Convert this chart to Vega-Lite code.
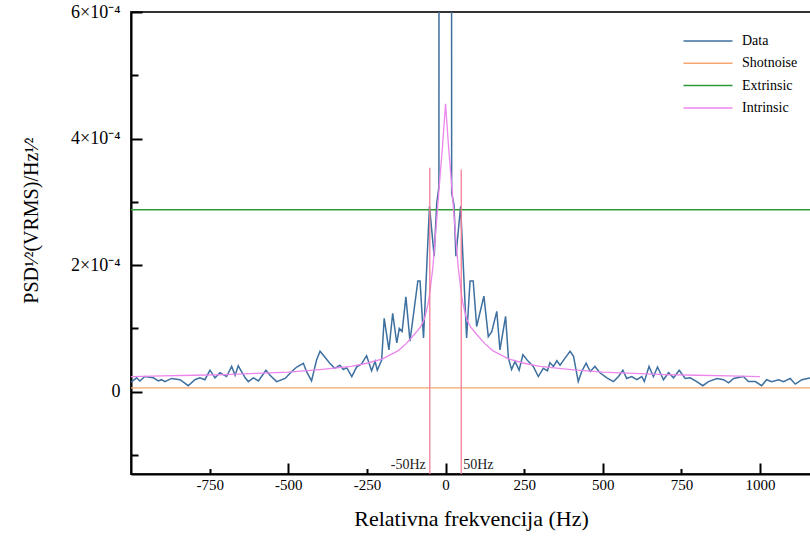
{
  "$schema": "https://vega.github.io/schema/vega-lite/v6.json",
  "width": 680,
  "height": 462,
  "autosize": {"type": "none"},
  "padding": {"left": 131, "top": 12, "right": 0, "bottom": 68},
  "background": "white",
  "config": {
    "font": "Liberation Serif",
    "view": {"stroke": "#333333", "strokeWidth": 2},
    "axis": {
      "domainColor": "black", "domainWidth": 2, "tickColor": "black", "tickWidth": 2,
      "labelColor": "black", "titleColor": "black", "grid": false,
      "labelFont": "Liberation Serif", "titleFont": "Liberation Serif", "titleFontWeight": "normal",
      "labelOverlap": false, "labelFlush": false, "labelBound": false
    },
    "text": {"font": "Liberation Serif"}
  },
  "datasets": {
    "psd": [
      {"f": -1000, "v": 1.5e-5, "s": "Data"}, {"f": -982, "v": 2.2e-5, "s": "Data"}, {"f": -972, "v": 1.7e-5, "s": "Data"},
      {"f": -956, "v": 2.4e-5, "s": "Data"}, {"f": -929, "v": 2.2e-5, "s": "Data"}, {"f": -913, "v": 1.7e-5, "s": "Data"},
      {"f": -903, "v": 1.9e-5, "s": "Data"}, {"f": -892, "v": 1.6e-5, "s": "Data"}, {"f": -871, "v": 2.1e-5, "s": "Data"},
      {"f": -844, "v": 1.9e-5, "s": "Data"}, {"f": -818, "v": 0.95e-5, "s": "Data"}, {"f": -797, "v": 1.9e-5, "s": "Data"},
      {"f": -781, "v": 2.2e-5, "s": "Data"}, {"f": -765, "v": 1.9e-5, "s": "Data"}, {"f": -749, "v": 3.4e-5, "s": "Data"},
      {"f": -733, "v": 2.2e-5, "s": "Data"}, {"f": -717, "v": 3.0e-5, "s": "Data"}, {"f": -696, "v": 2.4e-5, "s": "Data"},
      {"f": -680, "v": 4.0e-5, "s": "Data"}, {"f": -669, "v": 2.6e-5, "s": "Data"}, {"f": -659, "v": 4.1e-5, "s": "Data"},
      {"f": -637, "v": 2.2e-5, "s": "Data"}, {"f": -627, "v": 1.6e-5, "s": "Data"}, {"f": -611, "v": 2.2e-5, "s": "Data"},
      {"f": -595, "v": 1.7e-5, "s": "Data"}, {"f": -571, "v": 3.4e-5, "s": "Data"}, {"f": -558, "v": 2.6e-5, "s": "Data"},
      {"f": -537, "v": 1.6e-5, "s": "Data"}, {"f": -510, "v": 2.1e-5, "s": "Data"}, {"f": -489, "v": 3.2e-5, "s": "Data"},
      {"f": -473, "v": 3.9e-5, "s": "Data"}, {"f": -452, "v": 4.5e-5, "s": "Data"}, {"f": -442, "v": 3.2e-5, "s": "Data"},
      {"f": -426, "v": 1.7e-5, "s": "Data"}, {"f": -410, "v": 5.0e-5, "s": "Data"}, {"f": -399, "v": 6.4e-5, "s": "Data"},
      {"f": -389, "v": 5.8e-5, "s": "Data"}, {"f": -368, "v": 4.5e-5, "s": "Data"}, {"f": -352, "v": 3.7e-5, "s": "Data"},
      {"f": -336, "v": 4.2e-5, "s": "Data"}, {"f": -325, "v": 3.5e-5, "s": "Data"}, {"f": -314, "v": 3.8e-5, "s": "Data"},
      {"f": -298, "v": 2.4e-5, "s": "Data"}, {"f": -283, "v": 3.9e-5, "s": "Data"}, {"f": -267, "v": 4.4e-5, "s": "Data"},
      {"f": -251, "v": 5.7e-5, "s": "Data"}, {"f": -235, "v": 3.3e-5, "s": "Data"}, {"f": -224, "v": 4.8e-5, "s": "Data"},
      {"f": -217, "v": 3.4e-5, "s": "Data"}, {"f": -203, "v": 5.0e-5, "s": "Data"}, {"f": -195, "v": 1.16e-4, "s": "Data"},
      {"f": -180, "v": 6.6e-5, "s": "Data"}, {"f": -168, "v": 1.24e-4, "s": "Data"}, {"f": -155, "v": 7.7e-5, "s": "Data"},
      {"f": -147, "v": 1.0e-4, "s": "Data"}, {"f": -138, "v": 9.5e-5, "s": "Data"}, {"f": -126, "v": 1.5e-4, "s": "Data"},
      {"f": -113, "v": 8.0e-5, "s": "Data"}, {"f": -88, "v": 1.75e-4, "s": "Data"}, {"f": -81, "v": 1.75e-4, "s": "Data"},
      {"f": -70, "v": 8.5e-5, "s": "Data"}, {"f": -51, "v": 2.93e-4, "s": "Data"}, {"f": -36, "v": 2.14e-4, "s": "Data"},
      {"f": -28, "v": 2.98e-4, "s": "Data"}, {"f": -21, "v": 3.24e-4, "s": "Data"}, {"f": -19.5, "v": 3.0e-3, "s": "Data"},
      {"f": 0, "v": 8.0e-3, "s": "Data"}, {"f": 17.5, "v": 3.0e-3, "s": "Data"}, {"f": 19.5, "v": 3.14e-4, "s": "Data"},
      {"f": 27, "v": 2.95e-4, "s": "Data"}, {"f": 33, "v": 2.14e-4, "s": "Data"}, {"f": 48, "v": 2.93e-4, "s": "Data"},
      {"f": 67, "v": 8.5e-5, "s": "Data"}, {"f": 78, "v": 1.75e-4, "s": "Data"}, {"f": 88, "v": 1.75e-4, "s": "Data"},
      {"f": 99, "v": 1.03e-4, "s": "Data"}, {"f": 122, "v": 1.51e-4, "s": "Data"}, {"f": 136, "v": 8.7e-5, "s": "Data"},
      {"f": 147, "v": 9.5e-5, "s": "Data"}, {"f": 163, "v": 1.27e-4, "s": "Data"}, {"f": 173, "v": 6.6e-5, "s": "Data"},
      {"f": 191, "v": 1.19e-4, "s": "Data"}, {"f": 200, "v": 5.3e-5, "s": "Data"}, {"f": 210, "v": 3.5e-5, "s": "Data"},
      {"f": 221, "v": 4.8e-5, "s": "Data"}, {"f": 234, "v": 3.4e-5, "s": "Data"}, {"f": 246, "v": 5.85e-5, "s": "Data"},
      {"f": 263, "v": 4.8e-5, "s": "Data"}, {"f": 279, "v": 4.0e-5, "s": "Data"}, {"f": 295, "v": 2.4e-5, "s": "Data"},
      {"f": 311, "v": 3.7e-5, "s": "Data"}, {"f": 324, "v": 3.3e-5, "s": "Data"}, {"f": 332, "v": 4.6e-5, "s": "Data"},
      {"f": 343, "v": 4.0e-5, "s": "Data"}, {"f": 354, "v": 4.9e-5, "s": "Data"}, {"f": 364, "v": 4.2e-5, "s": "Data"},
      {"f": 380, "v": 5.3e-5, "s": "Data"}, {"f": 396, "v": 6.4e-5, "s": "Data"}, {"f": 407, "v": 5.6e-5, "s": "Data"},
      {"f": 422, "v": 1.6e-5, "s": "Data"}, {"f": 433, "v": 3.2e-5, "s": "Data"}, {"f": 447, "v": 4.5e-5, "s": "Data"},
      {"f": 460, "v": 3.2e-5, "s": "Data"}, {"f": 475, "v": 4.0e-5, "s": "Data"}, {"f": 491, "v": 3.0e-5, "s": "Data"},
      {"f": 513, "v": 2.2e-5, "s": "Data"}, {"f": 534, "v": 1.6e-5, "s": "Data"}, {"f": 550, "v": 2.4e-5, "s": "Data"},
      {"f": 564, "v": 3.4e-5, "s": "Data"}, {"f": 576, "v": 2.1e-5, "s": "Data"}, {"f": 592, "v": 2.4e-5, "s": "Data"},
      {"f": 608, "v": 1.9e-5, "s": "Data"}, {"f": 624, "v": 2.4e-5, "s": "Data"}, {"f": 632, "v": 1.6e-5, "s": "Data"},
      {"f": 647, "v": 4.0e-5, "s": "Data"}, {"f": 661, "v": 2.4e-5, "s": "Data"}, {"f": 674, "v": 3.9e-5, "s": "Data"},
      {"f": 693, "v": 1.9e-5, "s": "Data"}, {"f": 709, "v": 3.0e-5, "s": "Data"}, {"f": 725, "v": 2.2e-5, "s": "Data"},
      {"f": 743, "v": 3.4e-5, "s": "Data"}, {"f": 762, "v": 2.1e-5, "s": "Data"}, {"f": 778, "v": 2.2e-5, "s": "Data"},
      {"f": 799, "v": 1.6e-5, "s": "Data"}, {"f": 818, "v": 0.95e-5, "s": "Data"}, {"f": 836, "v": 1.6e-5, "s": "Data"},
      {"f": 863, "v": 2.1e-5, "s": "Data"}, {"f": 884, "v": 1.9e-5, "s": "Data"}, {"f": 900, "v": 1.4e-5, "s": "Data"},
      {"f": 916, "v": 2.1e-5, "s": "Data"}, {"f": 947, "v": 2.4e-5, "s": "Data"}, {"f": 963, "v": 1.6e-5, "s": "Data"},
      {"f": 985, "v": 1.6e-5, "s": "Data"}, {"f": 1005, "v": 0.95e-5, "s": "Data"}, {"f": 1021, "v": 1.9e-5, "s": "Data"},
      {"f": 1037, "v": 1.6e-5, "s": "Data"}, {"f": 1059, "v": 1.9e-5, "s": "Data"}, {"f": 1075, "v": 1.6e-5, "s": "Data"},
      {"f": 1096, "v": 2.1e-5, "s": "Data"}, {"f": 1112, "v": 1.2e-5, "s": "Data"}, {"f": 1133, "v": 1.9e-5, "s": "Data"},
      {"f": 1162, "v": 2.2e-5, "s": "Data"}
    ],
    "intr": [
      {"f": -1000, "v": 2.4e-5, "s": "Intrinsic"}, {"f": -900, "v": 2.5e-5, "s": "Intrinsic"}, {"f": -800, "v": 2.6e-5, "s": "Intrinsic"},
      {"f": -700, "v": 2.7e-5, "s": "Intrinsic"}, {"f": -600, "v": 2.9e-5, "s": "Intrinsic"}, {"f": -500, "v": 3.1e-5, "s": "Intrinsic"},
      {"f": -400, "v": 3.5e-5, "s": "Intrinsic"}, {"f": -300, "v": 4.0e-5, "s": "Intrinsic"}, {"f": -250, "v": 4.5e-5, "s": "Intrinsic"},
      {"f": -200, "v": 5.2e-5, "s": "Intrinsic"}, {"f": -150, "v": 6.5e-5, "s": "Intrinsic"}, {"f": -125, "v": 7.6e-5, "s": "Intrinsic"},
      {"f": -100, "v": 9.0e-5, "s": "Intrinsic"}, {"f": -80, "v": 1.02e-4, "s": "Intrinsic"}, {"f": -67, "v": 1.15e-4, "s": "Intrinsic"},
      {"f": -55, "v": 1.4e-4, "s": "Intrinsic"}, {"f": -50, "v": 1.56e-4, "s": "Intrinsic"}, {"f": -40, "v": 1.98e-4, "s": "Intrinsic"},
      {"f": -30, "v": 2.6e-4, "s": "Intrinsic"}, {"f": -20, "v": 3.24e-4, "s": "Intrinsic"}, {"f": -10, "v": 3.85e-4, "s": "Intrinsic"},
      {"f": -5, "v": 4.2e-4, "s": "Intrinsic"}, {"f": 0, "v": 4.55e-4, "s": "Intrinsic"}, {"f": 5, "v": 4.2e-4, "s": "Intrinsic"},
      {"f": 10, "v": 3.85e-4, "s": "Intrinsic"}, {"f": 20, "v": 3.24e-4, "s": "Intrinsic"}, {"f": 30, "v": 2.6e-4, "s": "Intrinsic"},
      {"f": 40, "v": 1.98e-4, "s": "Intrinsic"}, {"f": 50, "v": 1.56e-4, "s": "Intrinsic"}, {"f": 55, "v": 1.4e-4, "s": "Intrinsic"},
      {"f": 67, "v": 1.15e-4, "s": "Intrinsic"}, {"f": 80, "v": 1.02e-4, "s": "Intrinsic"}, {"f": 100, "v": 9.0e-5, "s": "Intrinsic"},
      {"f": 125, "v": 7.6e-5, "s": "Intrinsic"}, {"f": 150, "v": 6.5e-5, "s": "Intrinsic"}, {"f": 200, "v": 5.2e-5, "s": "Intrinsic"},
      {"f": 250, "v": 4.5e-5, "s": "Intrinsic"}, {"f": 300, "v": 4.0e-5, "s": "Intrinsic"}, {"f": 400, "v": 3.5e-5, "s": "Intrinsic"},
      {"f": 500, "v": 3.1e-5, "s": "Intrinsic"}, {"f": 600, "v": 2.9e-5, "s": "Intrinsic"}, {"f": 700, "v": 2.7e-5, "s": "Intrinsic"},
      {"f": 800, "v": 2.6e-5, "s": "Intrinsic"}, {"f": 900, "v": 2.5e-5, "s": "Intrinsic"}, {"f": 1000, "v": 2.4e-5, "s": "Intrinsic"}
    ],
    "hlines": [
      {"s": "Shotnoise", "v": 6e-6},
      {"s": "Extrinsic", "v": 2.875e-4}
    ],
    "vlines": [
      {"f": -50, "top": 3.54e-4, "bot": -1.3e-4, "ly": -1.15e-4, "lab": "-50Hz"},
      {"f": 50, "top": 3.51e-4, "bot": -1.3e-4, "ly": -1.15e-4, "lab": "50Hz"}
    ]
  },
  "layer": [
    {
      "data": {"name": "psd"},
      "mark": {"type": "line", "strokeWidth": 1.5, "clip": true, "interpolate": "linear"},
      "encoding": {
        "x": {"field": "f", "type": "quantitative",
          "scale": {"domain": [-1000, 1162], "nice": false, "zero": false},
          "axis": {"orient": "bottom", "values": [-500, 0, 500, 1000], "labelExpr": "'' + datum.value",
            "tickSize": -11, "labelPadding": 14, "labelFontSize": 15, "labelFont": "Liberation Serif",
            "title": "Relativna frekvencija (Hz)", "titleFontSize": 22, "titleFont": "Liberation Serif", "titlePadding": 16}},
        "y": {"field": "v", "type": "quantitative",
          "scale": {"domain": [-0.00013, 0.0006], "nice": false, "zero": false},
          "axis": {"orient": "left", "values": [0, 0.0002, 0.0004, 0.0006],
            "labelExpr": "datum.value == 0 ? '0' : round(datum.value * 10000) + '×10⁻⁴'",
            "tickSize": -11, "labelPadding": 22, "labelFontSize": 18, "labelFont": "Liberation Serif",
            "title": "PSD¹⁄²(VRMS)/Hz¹⁄²", "titleFontSize": 20, "titleFont": "Liberation Serif", "titlePadding": 29, "titleY": 208}},
        "color": {"field": "s", "type": "nominal",
          "scale": {"domain": ["Data", "Shotnoise", "Extrinsic", "Intrinsic"], "range": ["#3d6f9f", "#f7a56e", "#2f9a35", "#ec86ec"]},
          "legend": {"title": null, "orient": "none", "legendX": 566, "legendY": 18, "symbolType": "M-2.5,0H2.5",
            "symbolSize": 384, "symbolStrokeWidth": 1.5, "labelFontSize": 14, "labelFont": "Liberation Serif",
            "labelColor": "black", "rowPadding": 4.3, "padding": 0, "labelOffset": 23, "symbolOffset": 0}}
      }
    },
    {
      "data": {"name": "hlines"},
      "mark": {"type": "rule", "strokeWidth": 1.3},
      "encoding": {
        "y": {"field": "v", "type": "quantitative", "scale": {"domain": [-0.00013, 0.0006], "nice": false, "zero": false}, "axis": null},
        "color": {"field": "s", "type": "nominal"}
      }
    },
    {
      "data": {"name": "intr"},
      "mark": {"type": "line", "strokeWidth": 1.3},
      "encoding": {
        "x": {"field": "f", "type": "quantitative",
          "scale": {"domain": [-1000, 1162], "nice": false, "zero": false},
          "axis": {"orient": "bottom", "values": [-750, -250, 250, 750], "labelExpr": "'' + datum.value",
            "tickSize": -5.5, "labelPadding": 8.5, "labelFontSize": 15, "labelFont": "Liberation Serif", "domain": false, "title": null}},
        "y": {"field": "v", "type": "quantitative",
          "scale": {"domain": [-0.00013, 0.0006], "nice": false, "zero": false},
          "axis": {"orient": "left", "values": [-0.0001, 0.0001, 0.0003, 0.0005], "labels": false,
            "tickSize": -7, "domain": false, "title": null}},
        "color": {"field": "s", "type": "nominal"}
      }
    },
    {
      "data": {"name": "vlines"},
      "mark": {"type": "rule", "strokeWidth": 1.3, "color": "#f27e98"},
      "encoding": {
        "x": {"field": "f", "type": "quantitative", "scale": {"domain": [-1000, 1162], "nice": false, "zero": false}, "axis": null},
        "y": {"field": "top", "type": "quantitative", "scale": {"domain": [-0.00013, 0.0006], "nice": false, "zero": false}, "axis": null},
        "y2": {"field": "bot"}
      }
    },
    {
      "data": {"name": "vlines"},
      "transform": [{"filter": "datum.f < 0"}],
      "mark": {"type": "text", "fontSize": 14, "font": "Liberation Serif", "color": "#222222", "baseline": "middle", "align": "right", "dx": -4},
      "encoding": {
        "x": {"field": "f", "type": "quantitative", "scale": {"domain": [-1000, 1162], "nice": false, "zero": false}, "axis": null},
        "y": {"field": "ly", "type": "quantitative", "scale": {"domain": [-0.00013, 0.0006], "nice": false, "zero": false}, "axis": null},
        "text": {"field": "lab"}
      }
    },
    {
      "data": {"name": "vlines"},
      "transform": [{"filter": "datum.f > 0"}],
      "mark": {"type": "text", "fontSize": 14, "font": "Liberation Serif", "color": "#222222", "baseline": "middle", "align": "left", "dx": 2},
      "encoding": {
        "x": {"field": "f", "type": "quantitative", "scale": {"domain": [-1000, 1162], "nice": false, "zero": false}, "axis": null},
        "y": {"field": "ly", "type": "quantitative", "scale": {"domain": [-0.00013, 0.0006], "nice": false, "zero": false}, "axis": null},
        "text": {"field": "lab"}
      }
    }
  ],
  "resolve": {"axis": {"x": "independent", "y": "independent"}}
}
